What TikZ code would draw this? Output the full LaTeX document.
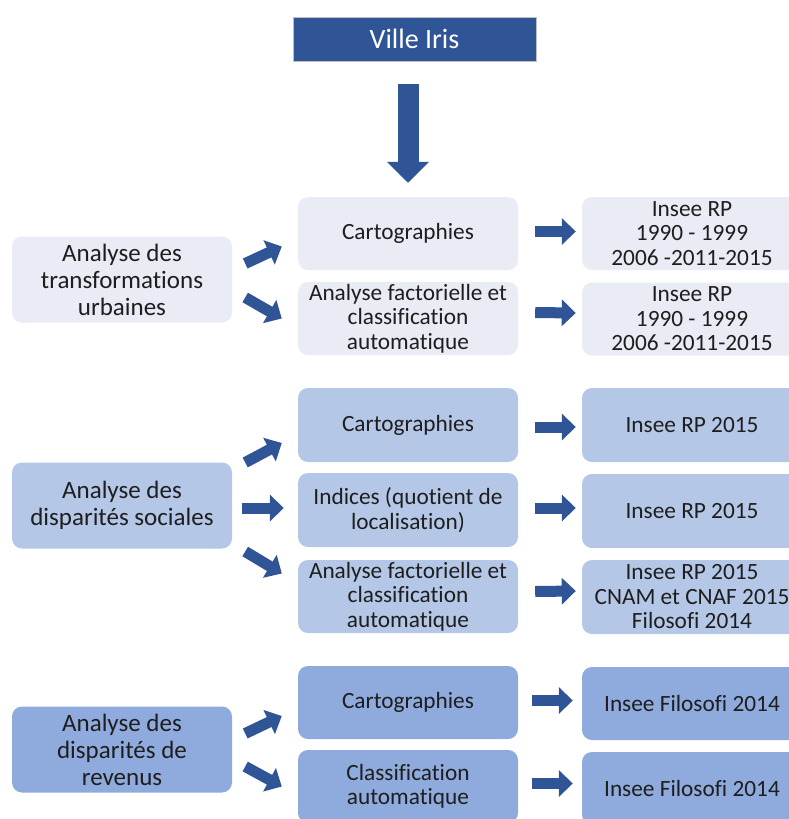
\documentclass[tikz,border=0pt]{standalone}
\usepackage{fontspec}
\setmainfont{Carlito}[Ligatures=NoCommon]
\usetikzlibrary{arrows.meta,calc}

\definecolor{dblue}{HTML}{2F5597}
\definecolor{paleA}{HTML}{E9EBF5}
\definecolor{paleB}{HTML}{B4C7E7}
\definecolor{paleC}{HTML}{8FAADC}
\definecolor{txt}{HTML}{1E1E1E}

\tikzset{
  box/.style={rounded corners=10pt, minimum width=220pt, align=center,
    text=txt, inner sep=2pt, font=\fontsize{23.3}{24.5}\selectfont},
  mainbox/.style={box, minimum height=86pt, font=\fontsize{25}{27}\selectfont},
  midbox/.style={box, minimum height=73pt},
  srcbox/.style={box, minimum height=73pt},
  barrow/.style={draw=dblue, line width=11pt,
    -{Triangle[length=14pt,width=26pt]}},
  bigarrow/.style={draw=dblue, line width=21pt,
    -{Triangle[length=21pt,width=41pt]}},
}

\begin{document}
\begin{tikzpicture}[x=1pt,y=-1pt]
\useasboundingbox (0,0) rectangle (789,819);
\clip (0,0) rectangle (789,819);

% title
\node[fill=dblue, draw=black!25, line width=0.8pt, minimum width=243pt,
  minimum height=44pt, text=white, font=\fontsize{28}{30}\selectfont]
  (ville) at (414.5,39) {Ville Iris};

% first group: urban transformations
\node[mainbox, fill=paleA] (L1) at (122,279.5)
  {Analyse des\\transformations\\urbaines};
\node[midbox, fill=paleA] (C1) at (408,233.5) {Cartographies};
\node[midbox, fill=paleA] (A1) at (408,318.5)
  {Analyse factorielle et\\classification\\automatique};
\node[srcbox, fill=paleA] (R1a) at (692,233.5)
  {Insee RP\\1990 - 1999\\2006 -2011-2015};
\node[srcbox, fill=paleA] (R1b) at (692,319)
  {Insee RP\\1990 - 1999\\2006 -2011-2015};

% second group: social disparities
\node[mainbox, fill=paleB] (L2) at (122,505.5)
  {Analyse des\\disparités sociales};
\node[midbox, minimum height=74pt, fill=paleB] (C2) at (408,425) {Cartographies};
\node[midbox, minimum height=74pt, fill=paleB] (I2) at (408,510)
  {Indices (quotient de\\localisation)};
\node[midbox, fill=paleB] (A2) at (408,596.5)
  {Analyse factorielle et\\classification\\automatique};
\node[srcbox, minimum height=74pt, fill=paleB] (R2a) at (692,425) {Insee RP 2015};
\node[srcbox, minimum height=74pt, fill=paleB] (R2b) at (692,511) {Insee RP 2015};
\node[srcbox, minimum height=74pt, fill=paleB] (R2c) at (692,597)
  {Insee RP 2015\\CNAM et CNAF 2015\\Filosofi 2014};

% third group: income disparities
\node[mainbox, fill=paleC] (L3) at (122,749.5)
  {Analyse des\\disparités de\\revenus};
\node[midbox, fill=paleC] (C3) at (408,702.5) {Cartographies};
\node[midbox, fill=paleC] (K3) at (408,786.5)
  {Classification\\automatique};
\node[srcbox, fill=paleC] (R3a) at (692,703.5) {Insee Filosofi 2014};
\node[srcbox, fill=paleC] (R3b) at (692,788.5) {Insee Filosofi 2014};

% main downward arrow
\draw[bigarrow] (C1.north |- ville.south) ++(0,23) -- ($(C1.north)+(0,-14)$);

% arrows of the first group
\draw[barrow] ($(L1.east)+(13,-16)$) -- ($(C1.west)+(-16,13)$);
\draw[barrow] ($(L1.east)+(13,18)$) -- ($(A1.west)+(-16,0)$);
\draw[barrow] ($(C1.east)+(17,-2)$) -- ($(R1a.west)+(-6,-2)$);
\draw[barrow] ($(A1.east)+(17,-6)$) -- ($(R1b.west)+(-6,-6)$);

% arrows of the second group
\draw[barrow] ($(L2.east)+(13,-43)$) -- ($(C2.west)+(-16,18)$);
\draw[barrow] ($(L2.east)+(10,2.5)$) -- ($(I2.west)+(-14,-2)$);
\draw[barrow] ($(L2.east)+(13,46)$) -- ($(A2.west)+(-16,-23)$);
\draw[barrow] ($(C2.east)+(17,2)$) -- ($(R2a.west)+(-6,2)$);
\draw[barrow] ($(I2.east)+(17,-2)$) -- ($(R2b.west)+(-6,-3)$);
\draw[barrow] ($(A2.east)+(17,-5)$) -- ($(R2c.west)+(-6,-6)$);

% arrows of the third group
\draw[barrow] ($(L3.east)+(13,-16)$) -- ($(C3.west)+(-16,13.5)$);
\draw[barrow] ($(L3.east)+(13,17)$) -- ($(K3.west)+(-16,0)$);
\draw[barrow] ($(C3.east)+(14,-2)$) -- ($(R3a.west)+(-9,-3)$);
\draw[barrow] ($(K3.east)+(14,-3)$) -- ($(R3b.west)+(-9,-5)$);
\end{tikzpicture}
\end{document}
